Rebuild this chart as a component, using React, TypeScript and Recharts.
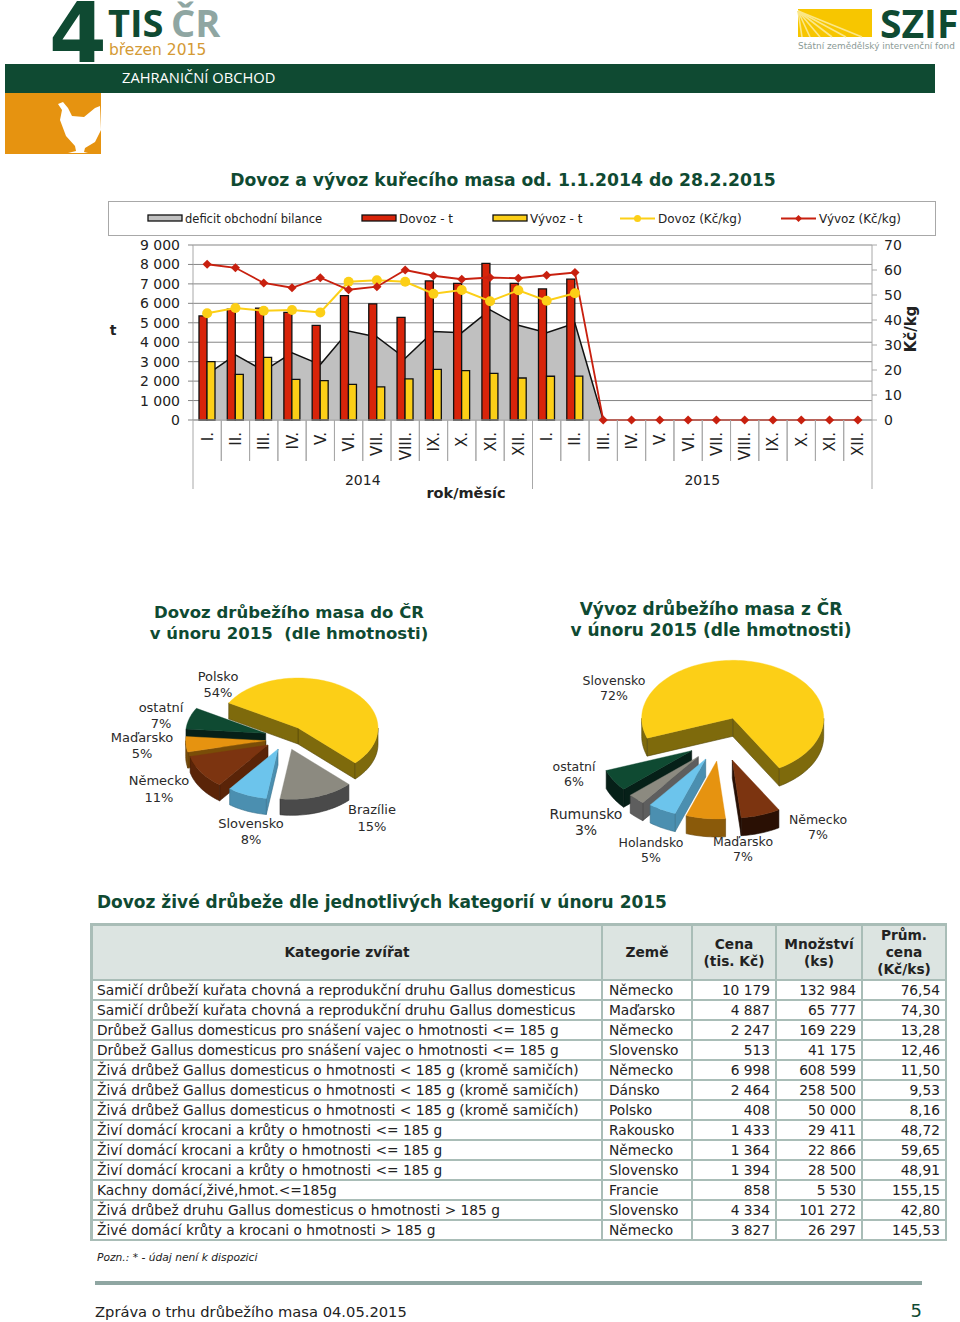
import React from "react";
import {
  ComposedChart, Area, Bar, Line, XAxis, YAxis, CartesianGrid, Legend,
  PieChart, Pie, Cell,
} from "recharts";

/* ---------- data ---------- */
const months = ["I.","II.","III.","IV.","V.","VI.","VII.","VIII.","IX.","X.","XI.","XII.","I.","II.","III.","IV.","V.","VI.","VII.","VIII.","IX.","X.","XI.","XII."];
const yearGroups = [{ year: "2014", span: 12 }, { year: "2015", span: 12 }];
const deficitT = [2350,3350,2530,3450,2850,4570,4270,3170,4550,4490,5660,4870,4490,4980,0,0,0,0,0,0,0,0,0,0];
const dovozT = [5350,5700,5750,5540,4870,6400,5970,5280,7150,7030,8060,7030,6740,7240,0,0,0,0,0,0,0,0,0,0];
const vyvozT = [3000,2350,3220,2090,2020,1830,1700,2110,2600,2540,2400,2160,2250,2260,0,0,0,0,0,0,0,0,0,0];
const dovozKc = [42.7,44.8,43.7,44,43,55.3,55.9,55.3,50.5,52,47.5,51.9,47.7,50.7,null,null,null,null,null,null,null,null,null,null];
const vyvozKc = [62.3,60.9,54.8,52.9,56.9,52.1,53.3,60,57.7,56.3,57,56.7,57.9,59,0,0,0,0,0,0,0,0,0,0];
const leftTicks = [0,1000,2000,3000,4000,5000,6000,7000,8000,9000];
const rightTicks = [0,10,20,30,40,50,60,70];

const importNames = ["ostatní","Maďarsko","Německo","Slovensko","Brazílie","Polsko"];
const importShares = [7,5,11,8,15,54];
const exportNames = ["ostatní","Rumunsko","Holandsko","Maďarsko","Německo","Slovensko"];
const exportShares = [6,3,5,7,7,72];

const tableHeads = ["Kategorie zvířat","Země","Cena\n(tis. Kč)","Množství\n(ks)","Prům.\ncena\n(Kč/ks)"];
const catSamici = "Samičí drůbeží kuřata chovná a reprodukční druhu Gallus domesticus";
const catSnaseni = "Drůbež Gallus domesticus pro snášení vajec o hmotnosti <= 185 g";
const catZiva = "Živá drůbež Gallus domesticus o hmotnosti < 185 g (kromě samičích)";
const catKrocani = "Živí domácí krocani a krůty o hmotnosti <= 185 g";
const tableCategories = [catSamici,catSamici,catSnaseni,catSnaseni,catZiva,catZiva,catZiva,catKrocani,catKrocani,catKrocani,"Kachny domácí,živé,hmot.<=185g","Živá drůbež druhu Gallus domesticus o hmotnosti > 185 g","Živé domácí krůty a krocani o hmotnosti > 185 g"];
const tableCountries = ["Německo","Maďarsko","Německo","Slovensko","Německo","Dánsko","Polsko","Rakousko","Německo","Slovensko","Francie","Slovensko","Německo"];
const tablePrices = ["10 179","4 887","2 247","513","6 998","2 464","408","1 433","1 364","1 394","858","4 334","3 827"];
const tableQty = ["132 984","65 777","169 229","41 175","608 599","258 500","50 000","29 411","22 866","28 500","5 530","101 272","26 297"];
const tableUnit = ["76,54","74,30","13,28","12,46","11,50","9,53","8,16","48,72","59,65","48,91","155,15","42,80","145,53"];

/* ---------- style ---------- */
const FONT = "'DejaVu Sans', Verdana, sans-serif";
const GREEN = "#0f4a32";
const RED = "#d8240a";
const LINE_RED = "#c8200f";
const YEL = "#fccf17";
const GREY = "#c0c0c0";
const AXIS = "#a8a8a8";
const GRID = "#858585";

const PLOT_LEFT = 85;
const PLOT_W = 679;
const STEP = PLOT_W / months.length;

const chartData = months.map((m, i) => ({
  key: i, month: m, deficit: deficitT[i], dovoz: dovozT[i], vyvoz: vyvozT[i], dovozKc: dovozKc[i], vyvozKc: vyvozKc[i],
}));

const spaced = (v: number) => String(v).replace(/\B(?=(\d{3})+$)/g, " ");

function Txt({ x, y, size = 14, bold = false, color = "#222", align = "left", children, style }: any) {
  const tx = align === "center" ? "-50%" : align === "right" ? "-100%" : "0";
  return (
    <div style={{ position: "absolute", left: x, top: y, fontFamily: FONT, fontSize: size, fontWeight: bold ? 700 : 400, color, whiteSpace: "pre", lineHeight: 1.2, transform: `translate(${tx},-50%)`, ...style }}>
      {children}
    </div>
  );
}

/* axis tick with separators and the year row */
function MonthTick({ x, y, index, payload }: any) {
  const label = months[payload?.value ?? index] ?? "";
  const i = payload?.value ?? index;
  const left = x - STEP / 2;
  let acc = 0;
  const els: React.ReactNode[] = [];
  yearGroups.forEach((g) => {
    if (i === acc) {
      els.push(<line key={"ys" + g.year} x1={left} x2={left} y1={y} y2={y + 69} stroke={AXIS} />);
      els.push(
        <text key={"y" + g.year} x={left + (g.span * STEP) / 2} y={y + 65} textAnchor="middle" fontSize={14} fontFamily={FONT} fill="#222">{g.year}</text>
      );
    }
    acc += g.span;
  });
  return (
    <g>
      <line x1={x + STEP / 2} x2={x + STEP / 2} y1={y} y2={y + (i === months.length - 1 ? 69 : 41)} stroke={AXIS} />
      {i !== 0 ? <line x1={left} x2={left} y1={y} y2={y + 41} stroke={AXIS} /> : null}
      {els}
      <text transform={`translate(${x + 0.5},${y + 12}) rotate(-90)`} textAnchor="end" dominantBaseline="central" fontSize={15} fontFamily={FONT} fill="#222">{label}</text>
    </g>
  );
}

const Diamond = ({ cx, cy, value }: any) =>
  value == null ? <g /> : (
    <polygon points={`${cx},${cy - 4.6} ${cx + 4.6},${cy} ${cx},${cy + 4.6} ${cx - 4.6},${cy}`} fill={LINE_RED} />
  );

const legendItems = [
  { name: "deficit obchodní bilance", left: 39, kind: "box", color: GREY, size: 11.5 },
  { name: "Dovoz - t", left: 253, kind: "box", color: RED, size: 12 },
  { name: "Vývoz - t", left: 384, kind: "box", color: YEL, size: 12 },
  { name: "Dovoz (Kč/kg)", left: 512, kind: "circle", color: YEL, size: 12 },
  { name: "Vývoz (Kč/kg)", left: 673, kind: "diamond", color: LINE_RED, size: 12 },
];

function LegendBox() {
  return (
    <div style={{ position: "relative", width: 828, height: 35, boxSizing: "border-box", border: "1px solid #a8a8a8", background: "#fff", fontFamily: FONT, color: "#222" }}>
      {legendItems.map((it) => (
        <div key={it.name}>
          <svg style={{ position: "absolute", left: it.left - 1, top: 8, overflow: "visible" }} width={36} height={18}>
            {it.kind === "box" ? (
              <rect x={1} y={5} width={34} height={6} fill={it.color} stroke="#111" strokeWidth={1.3} />
            ) : (
              <>
                <line x1={0} x2={35} y1={8.5} y2={8.5} stroke={it.color} strokeWidth={2} />
                {it.kind === "circle" ? <circle cx={17.5} cy={8.5} r={3.5} fill={it.color} /> : <polygon points="17.5,5 21,8.5 17.5,12 14,8.5" fill={it.color} />}
              </>
            )}
          </svg>
          <span style={{ position: "absolute", left: it.left + 37, top: 10, whiteSpace: "pre", fontSize: it.size }}>{it.name}</span>
        </div>
      ))}
    </div>
  );
}

function MainChart() {
  return (
    <div style={{ position: "absolute", left: 108, top: 201 }}>
      <ComposedChart width={828} height={300} data={chartData} barSize={8} barGap={0} margin={{ top: 9, right: 0, left: 0, bottom: 0 }}>
        <Legend verticalAlign="top" align="left" content={() => <LegendBox />} wrapperStyle={{ left: 0, top: 0, width: 828, height: 35 }} />
        <CartesianGrid horizontal vertical={false} stroke={GRID} yAxisId="t" />
        <XAxis dataKey="key" type="category" interval={0} height={81} tickSize={0} tickMargin={0} tickLine={false} stroke={AXIS} tick={<MonthTick />} />
        <YAxis yAxisId="t" width={PLOT_LEFT} domain={[0, 9000]} ticks={leftTicks} tickFormatter={spaced} stroke={AXIS} tickLine={{ stroke: GRID }} tickSize={5} tickMargin={8} interval={0} tick={{ fill: "#222", fontSize: 14, fontFamily: FONT }} />
        <YAxis yAxisId="kc" orientation="right" width={64} domain={[0, 70]} ticks={rightTicks} stroke={AXIS} tickSize={5} tickMargin={7} interval={0} tick={{ fill: "#222", fontSize: 14, fontFamily: FONT, textAnchor: "start" }} />
        <Area yAxisId="t" dataKey="deficit" name="deficit obchodní bilance" type="linear" fill={GREY} fillOpacity={1} stroke="#111" strokeWidth={1.5} isAnimationActive={false} />
        <Bar yAxisId="t" dataKey="dovoz" name="Dovoz - t" fill={RED} stroke="#111" strokeWidth={1.3} isAnimationActive={false} />
        <Bar yAxisId="t" dataKey="vyvoz" name="Vývoz - t" fill={YEL} stroke="#111" strokeWidth={1.3} isAnimationActive={false} />
        <Line yAxisId="kc" dataKey="dovozKc" name="Dovoz (Kč/kg)" stroke={YEL} strokeWidth={2} dot={{ r: 5, fill: YEL, stroke: YEL, strokeWidth: 0 }} isAnimationActive={false} />
        <Line yAxisId="kc" dataKey="vyvozKc" name="Vývoz (Kč/kg)" stroke={LINE_RED} strokeWidth={1.8} dot={<Diamond />} isAnimationActive={false} />
      </ComposedChart>
    </div>
  );
}

/* ---------- pseudo-3D pies ---------- */
function pt(cx: number, cy: number, rx: number, ry: number, deg: number) {
  const a = (deg * Math.PI) / 180;
  return [cx + rx * Math.cos(a), cy - ry * Math.sin(a)];
}
function arcPts(cx: number, cy: number, rx: number, ry: number, a1: number, a2: number) {
  const out: number[][] = [];
  const n = Math.max(2, Math.ceil(Math.abs(a2 - a1) / 2));
  for (let i = 0; i <= n; i++) out.push(pt(cx, cy, rx, ry, a1 + ((a2 - a1) * i) / n));
  return out;
}
const poly = (p: number[][]) => "M" + p.map((q) => q[0].toFixed(2) + " " + q[1].toFixed(2)).join("L") + "Z";

function sliceShape(cfg: any) {
  return function Slice(props: any) {
    const name = props.name ?? props.payload?.name;
    const idx = cfg.names.indexOf(name);
    const [dx, dy] = cfg.offsets[idx];
    const cx = props.cx + dx;
    const cy = props.cy + dy;
    const rx = props.outerRadius;
    const ry = rx * cfg.ratio;
    const a1 = Math.min(props.startAngle, props.endAngle);
    const a2 = Math.max(props.startAngle, props.endAngle);
    const d = cfg.depth;
    const top = cfg.tops[idx];
    const side = cfg.sides[idx];
    const faces: string[] = [];
    const cos = (x: number) => Math.cos((x * Math.PI) / 180);
    [a1, a2].forEach((a, i) => {
      const visible = i === 0 ? cos(a) > 0 : cos(a) < 0;
      if (visible) {
        const p = pt(cx, cy, rx, ry, a);
        faces.push(poly([[cx, cy], p, [p[0], p[1] + d], [cx, cy + d]]));
      }
    });
    [-540, -180, 180].forEach((lo) => {
      const s = Math.max(a1, lo);
      const e = Math.min(a2, lo + 180);
      if (e > s) {
        const arc = arcPts(cx, cy, rx, ry, s, e);
        faces.push(poly([...arc, ...arc.slice().reverse().map((q) => [q[0], q[1] + d])]));
      }
    });
    return (
      <g>
        {faces.map((f, i) => <path key={i} d={f} fill={side} stroke={cfg.edges[idx]} strokeWidth={0.6} strokeLinejoin="round" />)}
        <path d={poly([[cx, cy], ...arcPts(cx, cy, rx, ry, a1, a2)])} fill={top} stroke={top} strokeWidth={0.4} />
      </g>
    );
  };
}

function PieBlock({ left, top, w, h, cx, cy, r, start, names, shares, cfg, labels }: any) {
  const data = names.map((n: string, i: number) => ({ name: n, value: shares[i] }));
  const Shape = sliceShape({ ...cfg, names });
  const renderLabel = (p: any) => {
    const idx = names.indexOf(p.name ?? p.payload?.name);
    const [lx, y1, y2, size] = labels[idx];
    return (
      <g>
        <text x={lx - left} y={y1 - top} textAnchor="middle" dominantBaseline="central" fontSize={size} fontFamily={FONT} fill="#2a2a2a">{names[idx]}</text>
        <text x={lx - left} y={y2 - top} textAnchor="middle" dominantBaseline="central" fontSize={size} fontFamily={FONT} fill="#2a2a2a">{shares[idx] + "%"}</text>
      </g>
    );
  };
  return (
    <div style={{ position: "absolute", left, top }}>
      <PieChart width={w} height={h} margin={{ top: 0, right: 0, bottom: 0, left: 0 }}>
        <Pie data={data} dataKey="value" nameKey="name" cx={cx} cy={cy} outerRadius={r} innerRadius={0} startAngle={start} endAngle={start + 360} paddingAngle={0} stroke="none" shape={Shape} label={renderLabel} labelLine={false} isAnimationActive={false}>
          {names.map((n: string, i: number) => <Cell key={n} fill={cfg.tops[i]} />)}
        </Pie>
      </PieChart>
    </div>
  );
}

const importCfg = {
  ratio: 0.625, depth: 16,
  offsets: [[-4.3, -4.7], [-4.3, 2.7], [-2, 7], [8, 11], [21.7, 11.3], [28, -10]],
  tops: ["#0f4a32", "#e69310", "#7c3410", "#6cc4ec", "#8c8a80", YEL],
  sides: ["#062018", "#7a4d08", "#5a2408", "#4b8fb0", "#4a4a4a", "#7e6a0c"],
  edges: ["#041510", "#5a3806", "#3d1805", "#37708c", "#2e2e2e", "#544708"],
};
const exportCfg = {
  ratio: 0.637, depth: 18,
  offsets: [[-28.3, -7.3], [-21.7, -1.3], [-14.3, 1], [-3.3, 3], [12.3, 2], [12.7, -39.7]],
  tops: ["#0f4a32", "#8c8a80", "#6cc4ec", "#e69310", "#7c3410", YEL],
  sides: ["#062018", "#5e5e5e", "#4b8fb0", "#8a5a0a", "#2a1004", "#7e6a0c"],
  edges: ["#041510", "#404040", "#37708c", "#6a4506", "#1a0a02", "#544708"],
};
const importLabels = [[161,707,723,13],[142,737,753,13],[159,780,797,13],[251,823,839,13],[372,809,826,13],[218,676,692,13]];
const exportLabels = [[574,766,781,12.5],[586,814,830,14],[651,842,857,12.5],[743,841,856,12.5],[818,819,834,12.5],[614,680,695,12.5]];

/* ---------- table ---------- */
const COLS = [513, 90, 84, 86, 84];
function DataTable() {
  const cell: React.CSSProperties = { padding: 0, borderRight: "2px solid #a9bdb7", borderBottom: "2px solid #a9bdb7", boxSizing: "border-box", overflow: "hidden", whiteSpace: "nowrap" };
  return (
    <table style={{ position: "absolute", left: 90, top: 923, width: 857, borderCollapse: "separate", borderSpacing: 0, tableLayout: "fixed", fontFamily: FONT, fontSize: 13.75, color: "#222", borderTop: "3px solid #a9bdb7", borderLeft: "3px solid #a9bdb7", boxSizing: "border-box" }}>
      <colgroup>{COLS.map((c, i) => <col key={i} style={{ width: i === 0 ? c - 3 : c }} />)}</colgroup>
      <thead>
        <tr style={{ height: 55 }}>
          {tableHeads.map((h, i) => (
            <th key={i} style={{ ...cell, background: "#dce4e1", fontWeight: 700, textAlign: "center", whiteSpace: "pre-line", lineHeight: "17px" }}>{h}</th>
          ))}
        </tr>
      </thead>
      <tbody>
        {tableCategories.map((c, i) => (
          <tr key={i} style={{ height: 20 }}>
            <td style={{ ...cell, paddingLeft: 4 }}>{c}</td>
            <td style={{ ...cell, paddingLeft: 6 }}>{tableCountries[i]}</td>
            <td style={{ ...cell, textAlign: "right", paddingRight: 5 }}>{tablePrices[i]}</td>
            <td style={{ ...cell, textAlign: "right", paddingRight: 5 }}>{tableQty[i]}</td>
            <td style={{ ...cell, textAlign: "right", paddingRight: 5 }}>{tableUnit[i]}</td>
          </tr>
        ))}
      </tbody>
    </table>
  );
}

/* ---------- page ---------- */
function Header() {
  return (
    <>
      <Txt x={49} y={34} size={83} bold color={GREEN}>4</Txt>
      <Txt x={108} y={23} size={38} bold color={GREEN} style={{ fontFamily: "'Open Sans', sans-serif" }}>TIS</Txt>
      <Txt x={171} y={23} size={38} bold color="#8fa6a2" style={{ fontFamily: "'Open Sans', sans-serif" }}>ČR</Txt>
      <Txt x={109} y={50} size={15.5} color="#d49a35">březen 2015</Txt>
      <div style={{ position: "absolute", left: 5, top: 64, width: 930, height: 29, background: GREEN }} />
      <Txt x={122} y={78} size={14.7} color="#fff" style={{ fontFamily: "'Open Sans', sans-serif" }}>ZAHRANIČNÍ OBCHOD</Txt>
      <svg style={{ position: "absolute", left: 0, top: 0 }} width={960} height={160}>
        <rect x={5} y={93} width={96} height={61} fill="#e69310" />
        <path d="M58 104 L63 102 L68 108 L72 116 L84 117 L95 108 L100 106 L101 130 L95 142 L85 148 L84 152 L88 153 L68 153 L76 151 L75 146 L66 136 L60 120 L62 110 Z" fill="#fff" />
        <rect x={798} y={9} width={74} height={28} fill="#f7c600" />
        {[802, 810, 820, 832, 846, 862].map((bx) => (
          <line key={bx} x1={798} y1={11} x2={bx} y2={37} stroke="#fbe788" strokeWidth={1.6} />
        ))}
      </svg>
      <Txt x={880} y={23} size={39} bold color={GREEN} style={{ fontFamily: "'Open Sans', sans-serif" }}>SZIF</Txt>
      <Txt x={798} y={46} size={8.9} color="#8a9a96">Státní zemědělský intervenční fond</Txt>
    </>
  );
}

export default function App() {
  return (
    <div style={{ position: "absolute", left: 0, top: 0, width: 960, height: 1322, overflow: "hidden", background: "#fff" }}>
      <Header />
      <Txt x={503} y={180} size={17.2} bold align="center" color={GREEN}>Dovoz a vývoz kuřecího masa od. 1.1.2014 do 28.2.2015</Txt>
      <MainChart />
      <Txt x={113} y={330} size={14} bold align="center">t</Txt>
      <Txt x={911} y={329} size={15} bold align="center" style={{ transform: "translate(-50%,-50%) rotate(-90deg)" }}>Kč/kg</Txt>
      <Txt x={466} y={494} size={14.5} bold align="center">rok/měsíc</Txt>

      <Txt x={289} y={613} size={16.5} bold align="center" color={GREEN}>Dovoz drůbežího masa do ČR</Txt>
      <Txt x={289} y={634} size={16.5} bold align="center" color={GREEN}>v únoru 2015  (dle hmotnosti)</Txt>
      <Txt x={711} y={609} size={17} bold align="center" color={GREEN}>Vývoz drůbežího masa z ČR</Txt>
      <Txt x={711} y={630} size={17} bold align="center" color={GREEN}>v únoru 2015 (dle hmotnosti)</Txt>

      <PieBlock left={100} top={650} w={340} h={210} cx={170} cy={88} r={80} start={-210} names={importNames} shares={importShares} cfg={importCfg} labels={importLabels} />
      <PieBlock left={540} top={650} w={340} h={220} cx={180} cy={108} r={91} start={-160} names={exportNames} shares={exportShares} cfg={exportCfg} labels={exportLabels} />

      <Txt x={97} y={902} size={17} bold color={GREEN}>Dovoz živé drůbeže dle jednotlivých kategorií v únoru 2015</Txt>
      <DataTable />
      <Txt x={97} y={1258} size={10.7} style={{ fontStyle: "italic" }}>Pozn.: * - údaj není k dispozici</Txt>
      <div style={{ position: "absolute", left: 95, top: 1281, width: 827, height: 4, background: "#8fa6a2" }} />
      <Txt x={95} y={1312} size={14.7}>Zpráva o trhu drůbežího masa 04.05.2015</Txt>
      <Txt x={922} y={1311} size={18} align="right" color={GREEN}>5</Txt>
    </div>
  );
}
